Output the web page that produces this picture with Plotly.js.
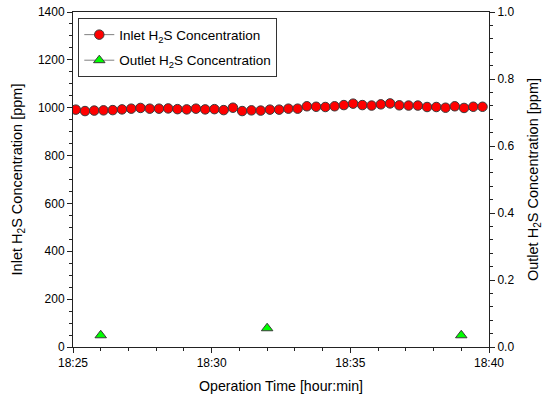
<!DOCTYPE html>
<html>
<head>
<meta charset="utf-8">
<script src="https://cdn.plot.ly/plotly-3.0.1.min.js"></script>
<style>html,body{margin:0;padding:0;background:#fff;}#chart{width:543px;height:405px;}</style>
</head>
<body>
<div id="chart"></div>
<script>
// Inlet H2S concentration (ppm), sampled every 20 s
const inletTimes = [
  "2000-01-01 18:25:06","2000-01-01 18:25:26","2000-01-01 18:25:46","2000-01-01 18:26:06","2000-01-01 18:26:26",
  "2000-01-01 18:26:46","2000-01-01 18:27:06","2000-01-01 18:27:26","2000-01-01 18:27:46","2000-01-01 18:28:06",
  "2000-01-01 18:28:26","2000-01-01 18:28:46","2000-01-01 18:29:06","2000-01-01 18:29:26","2000-01-01 18:29:46",
  "2000-01-01 18:30:06","2000-01-01 18:30:26","2000-01-01 18:30:46","2000-01-01 18:31:06","2000-01-01 18:31:26",
  "2000-01-01 18:31:46","2000-01-01 18:32:06","2000-01-01 18:32:26","2000-01-01 18:32:46","2000-01-01 18:33:06",
  "2000-01-01 18:33:26","2000-01-01 18:33:46","2000-01-01 18:34:06","2000-01-01 18:34:26","2000-01-01 18:34:46",
  "2000-01-01 18:35:06","2000-01-01 18:35:26","2000-01-01 18:35:46","2000-01-01 18:36:06","2000-01-01 18:36:26",
  "2000-01-01 18:36:46","2000-01-01 18:37:06","2000-01-01 18:37:26","2000-01-01 18:37:46","2000-01-01 18:38:06",
  "2000-01-01 18:38:26","2000-01-01 18:38:46","2000-01-01 18:39:06","2000-01-01 18:39:26","2000-01-01 18:39:46"
];
const inletPpm = [
  992, 986, 988, 989, 990, 993, 996, 999, 996, 996, 997, 994, 993, 996, 993,
  994, 990, 1000, 986, 989, 988, 992, 992, 996, 996, 1006, 1004, 1003, 1006, 1011,
  1017, 1011, 1009, 1014, 1018, 1010, 1009, 1009, 1003, 1003, 1000, 1006, 999, 1004, 1004
];
// Outlet H2S concentration (ppm)
const outletTimes = ["2000-01-01 18:26:00","2000-01-01 18:32:00","2000-01-01 18:39:00"];
const outletPpm = [0.035, 0.056, 0.035];

const inletName = "Inlet H<sub>2</sub>S Concentration";
const outletName = "Outlet H<sub>2</sub>S Concentration";
const xRange = ["2000-01-01 18:25:00","2000-01-01 18:40:00"];

const font = {family: "Liberation Sans, Arial, sans-serif", size: 12, color: "#000"};
const lineCol = "#222";

const traces = [
  {
    x: inletTimes, y: inletPpm, name: inletName, type: "scatter", mode: "lines+markers",
    line: {color: "#808080", width: 1},
    marker: {symbol: "circle", size: 9.5, color: "#ff0000", line: {color: "#3a3a3a", width: 1}},
    yaxis: "y", legendgroup: "a"
  },
  {
    x: outletTimes, y: outletPpm, name: outletName, type: "scatter", mode: "markers",
    marker: {symbol: "triangle-up", size: 10, color: "#00ff00", line: {color: "#3a3a3a", width: 1}},
    yaxis: "y2", showlegend: false
  },
  {
    x: [null], y: [null], name: outletName, type: "scatter", mode: "lines+markers",
    line: {color: "#808080", width: 1},
    marker: {symbol: "triangle-up", size: 10, color: "#00ff00", line: {color: "#3a3a3a", width: 1}},
    yaxis: "y2", legendgroup: "b"
  }
];

const layout = {
  width: 543, height: 405,
  margin: {l: 73, r: 54, t: 12, b: 58},
  paper_bgcolor: "#fff", plot_bgcolor: "#fff",
  font: font,
  showlegend: true,
  legend: {
    x: 0.0127, y: 0.981, xanchor: "left", yanchor: "top",
    bgcolor: "#fff", bordercolor: "#333", borderwidth: 1,
    font: {family: font.family, size: 13.5, color: "#000"},
    tracegroupgap: 5
  },
  xaxis: {
    type: "date", range: xRange, tickformat: "%H:%M",
    dtick: 300000, tick0: "2000-01-01 18:25:00",
    ticks: "outside", ticklen: 5, tickcolor: lineCol,
    showline: true, linecolor: lineCol, linewidth: 1, mirror: true,
    showgrid: false, zeroline: false,
    minor: {dtick: 60000, ticks: "outside", ticklen: 3, tickcolor: lineCol, showgrid: false},
    tickfont: {size: 12},
    title: {text: "Operation Time [hour:min]", font: {size: 14.2}, standoff: 11}
  },
  yaxis: {
    range: [0, 1400], dtick: 200,
    ticks: "outside", ticklen: 5, tickcolor: lineCol,
    showline: true, linecolor: lineCol, linewidth: 1,
    showgrid: false, zeroline: false,
    minor: {dtick: 50, ticks: "outside", ticklen: 3, tickcolor: lineCol, showgrid: false},
    tickfont: {size: 12},
    title: {text: "Inlet H<sub>2</sub>S Concentration [ppm]", font: {size: 14.5}, standoff: 11}
  },
  yaxis2: {
    overlaying: "y", side: "right",
    range: [0, 1], dtick: 0.2, tickformat: ".1f",
    ticks: "outside", ticklen: 5, tickcolor: lineCol,
    showline: true, linecolor: lineCol, linewidth: 1,
    showgrid: false, zeroline: false,
    minor: {dtick: 0.04, ticks: "outside", ticklen: 3, tickcolor: lineCol, showgrid: false},
    tickfont: {size: 12},
    title: {text: "Outlet H<sub>2</sub>S Concentration [ppm]", font: {size: 14.5}, standoff: 19}
  }
};

Plotly.newPlot("chart", traces, layout, {displayModeBar: false, staticPlot: true});
</script>
</body>
</html>
